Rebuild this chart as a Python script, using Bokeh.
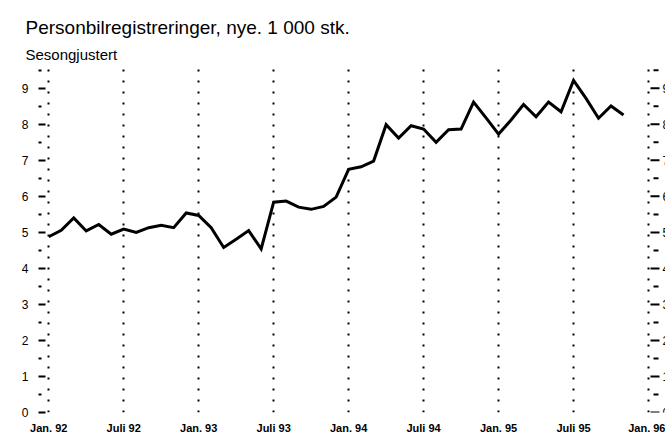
from bokeh.plotting import figure
from bokeh.models import FixedTicker, Range1d, Title, ColumnDataSource
from bokeh.embed import file_html
from bokeh.resources import INLINE

# Monthly values, Jan 1992 .. Nov 1995 (1 000 cars, seasonally adjusted)
values_1992 = [4.88, 5.06, 5.40, 5.04, 5.22, 4.95, 5.09, 5.00, 5.13, 5.20, 5.13, 5.54]
values_1993 = [5.47, 5.13, 4.58, 4.81, 5.05, 4.54, 5.84, 5.87, 5.70, 5.64, 5.72, 5.98]
values_1994 = [6.75, 6.82, 6.98, 7.99, 7.62, 7.96, 7.87, 7.50, 7.85, 7.87, 8.62, 8.18]
values_1995 = [7.73, 8.12, 8.55, 8.21, 8.62, 8.35, 9.22, 8.72, 8.17, 8.51, 8.26]
values = values_1992 + values_1993 + values_1994 + values_1995
months = list(range(len(values)))  # 0 = Jan. 92

x_ticks = [0, 6, 12, 18, 24, 30, 36, 42, 48]
x_tick_labels = ["Jan. 92", "Juli 92", "Jan. 93", "Juli 93", "Jan. 94",
                 "Juli 94", "Jan. 95", "Juli 95", "Jan. 96"]
y_ticks = [0, 1, 2, 3, 4, 5, 6, 7, 8, 9]
y_minor = [0.5, 1.5, 2.5, 3.5, 4.5, 5.5, 6.5, 7.5, 8.5, 9.5]

title_text = "Personbilregistreringer, nye. 1 000 stk."
subtitle_text = "Sesongjustert"

FONT = "Liberation Sans"

W, H = 665, 436
LEFT, RIGHT, TOP, BOTTOM = 46, 0, 68, 19
X_START, X_END = -0.18, 49.36
frame_w = W - LEFT - RIGHT
px = frame_w / (X_END - X_START)   # pixels per month

p = figure(width=W, height=H, output_backend="svg", toolbar_location=None,
           x_range=Range1d(X_START, X_END), y_range=Range1d(0, 9.55),
           min_border_left=LEFT, min_border_right=RIGHT, min_border_top=TOP,
           min_border_bottom=BOTTOM)
p.outline_line_color = None
p.background_fill_color = "white"
p.border_fill_color = "white"

# titles: the added Title sits nearest the frame, p.title above it
p.title.text = title_text
p.title.text_font = FONT
p.title.text_font_size = "19px"
p.title.text_font_style = "normal"
p.title.text_color = "black"
p.title.align = "left"
p.title.offset = -21
p.title.standoff = 0
sub_title = Title(text=subtitle_text, text_font=FONT, text_font_size="15px",
                  text_font_style="normal", text_color="black",
                  align="left", offset=-21, standoff=12,
                  text_line_height=0.7)
p.add_layout(sub_title, "above")

# series
p.line(months, values, line_color="black", line_width=3, line_join="miter")

# x axis
p.xaxis.ticker = FixedTicker(ticks=x_ticks)
p.xaxis.major_label_overrides = {t: l for t, l in zip(x_ticks, x_tick_labels)}
p.xaxis.axis_line_color = None
p.xaxis.major_tick_line_color = None
p.xaxis.minor_tick_line_color = None
p.xaxis.major_label_standoff = 3
p.xaxis.major_label_text_font = FONT
p.xaxis.major_label_text_font_style = "bold"
p.xaxis.major_label_text_font_size = "11px"
p.xaxis.major_label_text_color = "black"

p.xgrid.ticker = FixedTicker(ticks=x_ticks)
p.xgrid.grid_line_color = "black"
p.xgrid.grid_line_width = 2
p.xgrid.grid_line_dash = "2 9"
p.ygrid.grid_line_color = None

# left y axis
yax = p.yaxis[0]
yax.ticker = FixedTicker(ticks=y_ticks, minor_ticks=y_minor)
yax.axis_line_color = None
yax.major_tick_in = -1
yax.major_tick_out = 8
yax.minor_tick_in = -5
yax.minor_tick_out = 8
yax.major_tick_line_width = 2
yax.minor_tick_line_width = 2
yax.major_tick_line_color = "black"
yax.minor_tick_line_color = "black"
yax.major_label_standoff = 10
yax.major_label_text_font = FONT
yax.major_label_text_font_size = "12px"
yax.major_label_text_color = "black"

# right-hand tick marks and (cut-off) labels, just right of Jan. 96
x_right = x_ticks[-1]
major_src = ColumnDataSource(dict(
    x0=[x_right + 2 / px] * len(y_ticks), x1=[x_right + 11 / px] * len(y_ticks),
    y=y_ticks, label=[str(t) for t in y_ticks]))
minor_src = ColumnDataSource(dict(
    x0=[x_right + 5 / px] * len(y_minor), x1=[x_right + 10 / px] * len(y_minor),
    y=y_minor))
p.segment(x0="x0", y0="y", x1="x1", y1="y", source=major_src,
          line_color="black", line_width=2)
p.segment(x0="x0", y0="y", x1="x1", y1="y", source=minor_src,
          line_color="black", line_width=2)
p.text(x=x_right + 14 / px, y="y", text="label", source=major_src,
       text_font_size="12px", text_color="black", text_align="left",
       text_baseline="middle")

open("out.html", "w").write(file_html(p, INLINE))
